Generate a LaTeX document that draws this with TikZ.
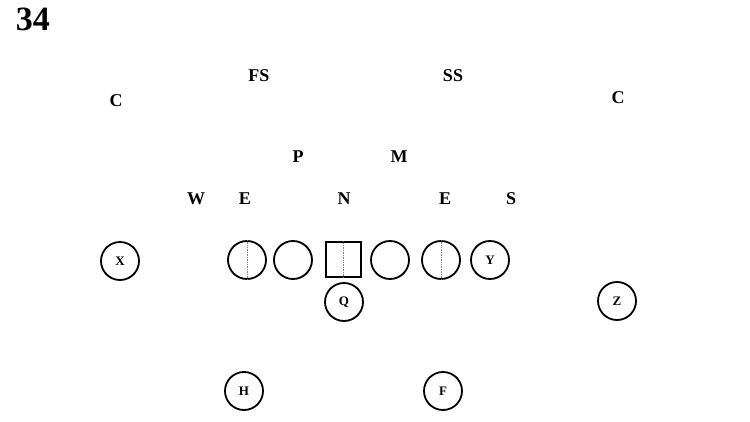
\documentclass[tikz,border=0pt]{standalone}
\usepackage{fontspec}
\setmainfont{Liberation Serif}
\begin{document}
\begin{tikzpicture}[x=1pt,y=-1pt,
        lbl/.style={font=\fontsize{18}{18}\selectfont\bfseries},
        plyr/.style={circle,draw,line width=1.8pt,minimum size=38pt,inner sep=0pt,font=\fontsize{13}{13}\selectfont\bfseries},
        ctr/.style={rectangle,draw,line width=2pt,minimum size=35pt,inner sep=0pt},
        split/.style={gray,densely dotted,line width=0.7pt}]
        \useasboundingbox (0,0) rectangle (750,422);
        \node[font=\fontsize{34}{34}\selectfont\bfseries] (title) at (33,19) {34};
        % defense
        \node[lbl] (fs) at (259,76) {FS};
        \node[lbl] (ss) at (453,76) {SS};
        \node[lbl] (cl) at (116,101) {C};
        \node[lbl] (cr) at (618,98) {C};
        \node[lbl] (p) at (298,157) {P};
        \node[lbl] (m) at (399,157) {M};
        \node[lbl] (w) at (196,199) {W};
        \node[lbl] (el) at (245,199) {E};
        \node[lbl] (n) at (344,199) {N};
        \node[lbl] (er) at (445,199) {E};
        \node[lbl] (s) at (511,199) {S};
        % offense
        \node[plyr] (x) at (120,261) {X};
        \node[plyr] (lt) at (247,260) {};
        \node[plyr] (lg) at (293,260) {};
        \node[ctr] (c) at (343,260) {};
        \node[plyr] (rg) at (390,260) {};
        \node[plyr] (rt) at (441,260) {};
        \node[plyr] (y) at (490,260) {Y};
        \node[plyr] (q) at (344,302) {Q};
        \node[plyr] (z) at (617,301) {Z};
        \node[plyr] (h) at (244,391) {H};
        \node[plyr] (f) at (443,391) {F};
        \draw[split] (lt.north)--(lt.south);
        \draw[split] (c.north)--(c.south);
        \draw[split] (rt.north)--(rt.south);
\end{tikzpicture}
\end{document}
